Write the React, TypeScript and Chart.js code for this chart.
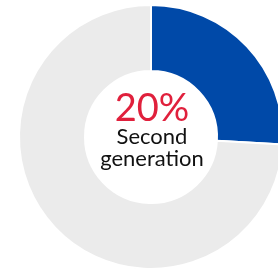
import React, { useEffect, useRef } from "react";
import { Chart, registerables } from "chart.js";

Chart.register(...registerables);

const categories = ["Second generation", "Other"];
const values = [25.9, 74.1];
const colors = ["#0049A8", "#EBEBEB"];
const headline = "20%";
const labelLines = ["Second", "generation"];

export default function App() {
  const ref = useRef<HTMLCanvasElement | null>(null);

  useEffect(() => {
    if (!ref.current) return;
    const chart = new Chart(ref.current, {
      type: "doughnut",
      data: {
        labels: categories,
        datasets: [
          {
            data: values,
            backgroundColor: colors,
            borderColor: "#ffffff",
            borderWidth: 2,
            hoverOffset: 0,
          },
        ],
      },
      options: {
        responsive: false,
        animation: false,
        radius: 132,
        cutout: 68,
        layout: { padding: 0 },
        plugins: {
          legend: { display: false },
          tooltip: { enabled: false },
        },
      },
    });
    return () => chart.destroy();
  }, []);

  const font = "Lato, 'Open Sans', sans-serif";
  return (
    <div
      style={{
        position: "fixed",
        left: 0,
        top: 0,
        width: 278,
        height: 270,
        overflow: "hidden",
        background: "#ffffff",
      }}
    >
      <canvas
        ref={ref}
        width={302}
        height={274}
        style={{ position: "absolute", left: 0, top: 0, width: 302, height: 274 }}
      />
      <div
        style={{
          position: "absolute",
          left: 52,
          width: 200,
          top: 87,
          textAlign: "center",
          fontFamily: font,
          fontSize: 38,
          lineHeight: "38px",
          color: "#E0203C",
        }}
      >
        {headline}
      </div>
      <div
        style={{
          position: "absolute",
          left: 52,
          width: 200,
          top: 125,
          textAlign: "center",
          fontFamily: font,
          fontSize: 22,
          lineHeight: "22px",
          color: "#111111",
        }}
      >
        {labelLines[0]}
      </div>
      <div
        style={{
          position: "absolute",
          left: 52,
          width: 200,
          top: 147,
          textAlign: "center",
          fontFamily: font,
          fontSize: 22,
          lineHeight: "22px",
          color: "#111111",
        }}
      >
        {labelLines[1]}
      </div>
    </div>
  );
}
